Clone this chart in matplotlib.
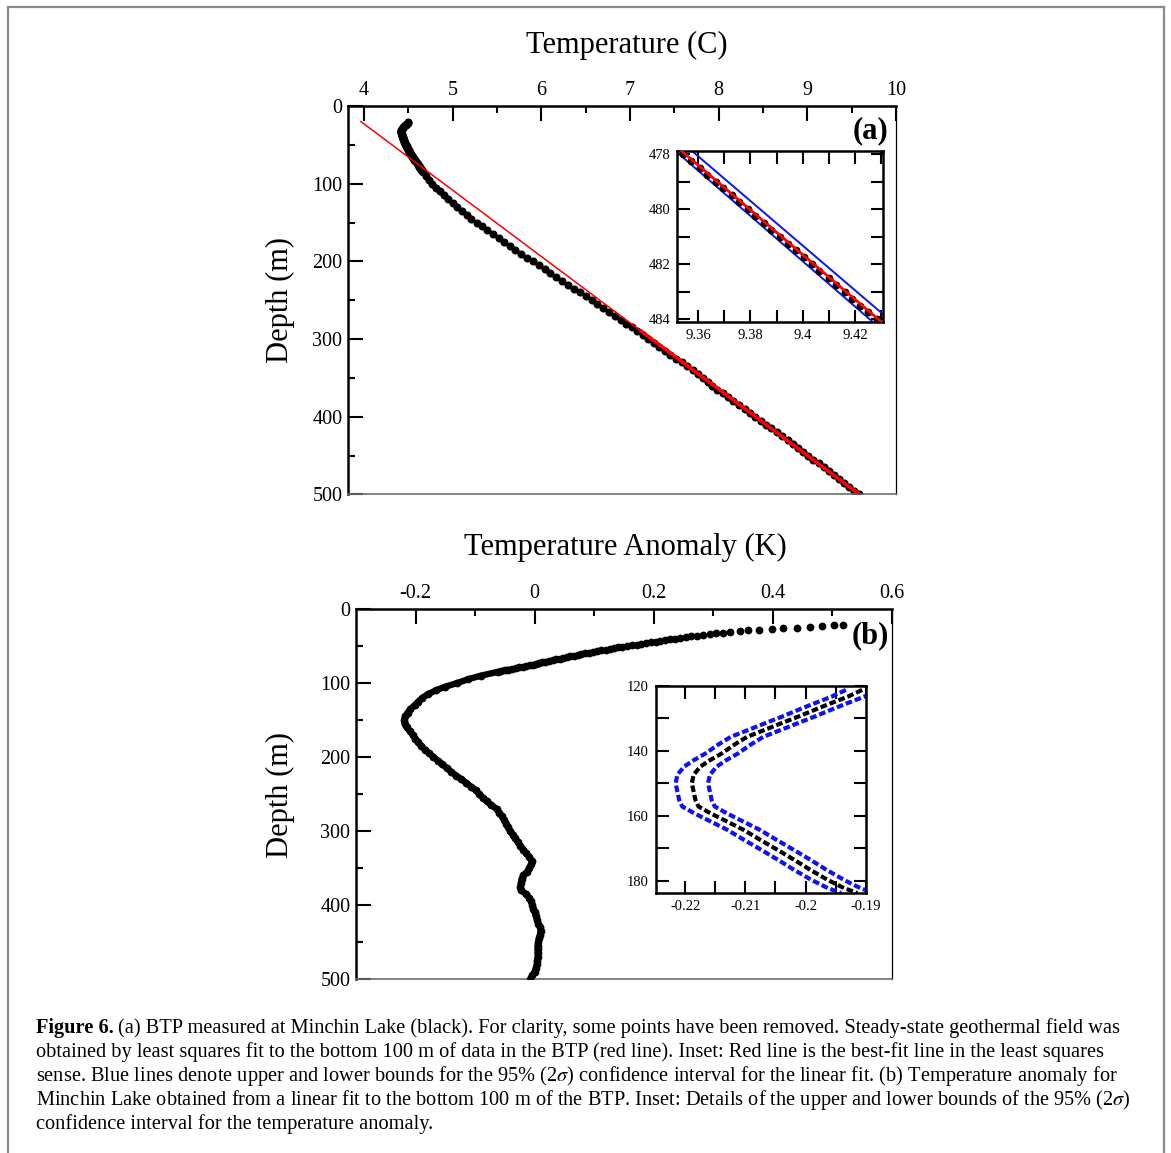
import numpy as np
import matplotlib
matplotlib.use("Agg")
import matplotlib.pyplot as plt
from matplotlib.lines import Line2D
from matplotlib.ticker import MultipleLocator, FixedLocator

plt.rcParams['font.family'] = ['Liberation Serif', 'DejaVu Serif']
plt.rcParams['mathtext.fontset'] = 'stix'

# ---------------- data ----------------
# temperature anomaly (K), panel (b): 1 m spacing near the top, 5 m below
depth_shallow = list(range(21, 86))
anom_shallow = [0.517, 0.503, 0.483, 0.462, 0.440, 0.417, 0.398, 0.377, 0.359, 0.344,
                0.328, 0.316, 0.305, 0.294, 0.282, 0.272, 0.263, 0.254, 0.244, 0.236,
                0.227, 0.219, 0.211, 0.203, 0.195, 0.187, 0.179, 0.171, 0.163, 0.155,
                0.147, 0.140, 0.133, 0.126, 0.119, 0.112, 0.105, 0.098, 0.091, 0.084,
                0.078, 0.072, 0.066, 0.060, 0.054, 0.048, 0.042, 0.036, 0.030, 0.024,
                0.018, 0.013, 0.008, 0.003, -0.002, -0.008, -0.014, -0.020, -0.026, -0.032,
                -0.038, -0.044, -0.050, -0.056, -0.062]
depth_deep = list(range(90, 501, 5))
anom_deep = [-0.090, -0.112, -0.130, -0.150, -0.166, -0.179, -0.1885, -0.1955, -0.2015, -0.2085,
             -0.2133, -0.2175, -0.2189, -0.2183, -0.2150, -0.2096, -0.2050, -0.2005, -0.1960, -0.1905,
             -0.184, -0.177, -0.170, -0.162, -0.155, -0.147, -0.140, -0.132, -0.123, -0.115,
             -0.107, -0.099, -0.093, -0.087, -0.080, -0.073, -0.064, -0.060, -0.055, -0.051,
             -0.048, -0.045, -0.041, -0.037, -0.033, -0.028, -0.024, -0.019, -0.014, -0.009,
             -0.005, -0.006, -0.009, -0.013, -0.019, -0.022, -0.023, -0.024, -0.023, -0.015,
             -0.009, -0.006, -0.004, -0.002, 0.000, 0.002, 0.004, 0.006, 0.009, 0.010,
             0.009, 0.007, 0.006, 0.005, 0.005, 0.005, 0.005, 0.004, 0.004, 0.002,
             0.000, -0.004, -0.007]

# steady-state (least squares) line, panel (a)
fit_depth = [20, 500]
fit_temp = [3.965, 9.590]

# inset (a): bottom of the BTP with fit and 95% bounds
ins_a_depth = [478.0, 478.25, 478.5, 478.75, 479.0, 479.25, 479.5, 479.75, 480.0, 480.25,
               480.5, 480.75, 481.0, 481.25, 481.5, 481.75, 482.0, 482.25, 482.5, 482.75,
               483.0, 483.25, 483.5, 483.75, 484.0]
ins_a_temp = [9.3543, 9.3572, 9.3607, 9.3634, 9.3668, 9.3695, 9.3730, 9.3757, 9.3791, 9.3818,
              9.3853, 9.3879, 9.3914, 9.3942, 9.3975, 9.4003, 9.4037, 9.4064, 9.4099, 9.4126,
              9.4160, 9.4188, 9.4221, 9.4250, 9.4284]
ins_a_line_depth = [477.8, 484.2]
ins_a_fit = [9.3525, 9.4314]
ins_a_lower = [9.3502, 9.4281]
ins_a_upper = [9.3565, 9.4355]

# inset (b): anomaly around its minimum, with 95% half-width
ins_b_depth = [121.3, 123.4, 125.4, 127.5, 129.5, 131.6, 134.1, 135.7, 138.2, 140.8,
               142.8, 144.9, 147.4, 150.0, 152.5, 155.1, 157.1, 159.2, 161.7, 164.3,
               167.4, 170.4, 173.5, 176.6, 179.6, 182.2, 183.7]
ins_b_anom = [-0.1906, -0.1930, -0.1958, -0.1986, -0.2012, -0.2041, -0.2075, -0.2097, -0.2119, -0.2139,
              -0.2158, -0.2175, -0.2186, -0.2189, -0.2186, -0.2183, -0.2178, -0.2158, -0.2131, -0.2103,
              -0.2075, -0.2047, -0.2019, -0.1992, -0.1964, -0.1936, -0.1914]
ins_b_halfwidth = 0.0027

caption_bold = "Figure 6."
caption_lines = [
    r"(a) BTP measured at Minchin Lake (black). For clarity, some points have been removed. Steady-state geothermal field was",
    r"obtained by least squares fit to the bottom 100 m of data in the BTP (red line). Inset: Red line is the best-fit line in the least squares",
    r"sense. Blue lines denote upper and lower bounds for the 95% (2$\sigma$) confidence interval for the linear fit. (b) Temperature anomaly for",
    r"Minchin Lake obtained from a linear fit to the bottom 100 m of the BTP. Inset: Details of the upper and lower bounds of the 95% (2$\sigma$)",
    r"confidence interval for the temperature anomaly.",
]

# ---------------- derived series ----------------
depth_all = np.array(depth_shallow + depth_deep, dtype=float)
anom_all = np.array(anom_shallow + anom_deep)
temp_all = np.interp(depth_all, fit_depth, fit_temp) + anom_all
deep_mask = depth_all >= 290
line_mask = depth_all >= 82

W, H = 1171, 1153
fig = plt.figure(figsize=(W / 100, H / 100), dpi=100)


def px_box(left, top, right, bottom):
    return [left / W, 1 - bottom / H, (right - left) / W, (bottom - top) / H]


def style_main(ax):
    ax.xaxis.tick_top()
    ax.tick_params(which='both', direction='in', top=True, bottom=False, left=True, right=False,
                   labeltop=True, labelbottom=False, width=1.5, labelsize=14.5, pad=4, color='black')
    ax.tick_params(which='major', length=10.5)
    ax.tick_params(which='minor', length=5.3)
    ax.spines['left'].set_linewidth(1.8)
    ax.spines['top'].set_linewidth(1.8)
    ax.spines['right'].set_linewidth(0.9)
    ax.spines['bottom'].set_linewidth(1.2)
    ax.spines['bottom'].set_color('#6e6e6e')
    ax.yaxis.set_major_locator(MultipleLocator(100))
    ax.yaxis.set_minor_locator(MultipleLocator(50))


def style_inset(ax):
    ax.tick_params(which='both', direction='in', top=True, bottom=True, left=True, right=True,
                   length=9, width=1.5, labelsize=10.5, pad=5)
    for s in ax.spines.values():
        s.set_linewidth(1.8)


# ---------------- panel (a) ----------------
ax1 = fig.add_axes(px_box(348, 106, 896, 494.5))
ax1.plot(temp_all, depth_all, 'o', color='black', ms=4.8, mec='black', zorder=2)
ax1.plot(fit_temp, fit_depth, color='red', lw=1.1, zorder=3)
ax1.plot(np.interp(depth_all[deep_mask], fit_depth, fit_temp), depth_all[deep_mask],
         color='red', lw=2.6, zorder=4)
ax1.set_xlim(3.82, 10)
ax1.set_ylim(500, 0)
ax1.xaxis.set_major_locator(MultipleLocator(1))
ax1.xaxis.set_minor_locator(MultipleLocator(0.5))
style_main(ax1)
ax1.text(0.986, 0.936, '(a)', transform=ax1.transAxes, ha='right', va='center',
         fontsize=22, fontweight='bold')

ins1 = fig.add_axes(px_box(677.3, 150.7, 882.7, 321.7))
ins1.plot(ins_a_lower, ins_a_line_depth, color='#0a14f0', lw=1.4, zorder=2)
ins1.plot(ins_a_upper, ins_a_line_depth, color='#0a14f0', lw=1.4, zorder=2)
ins1.plot(ins_a_temp, ins_a_depth, 'o', color='black', ms=4.6, zorder=3)
ins1.plot(ins_a_fit, ins_a_line_depth, color='red', lw=2.0, zorder=4)
ins1.set_xlim(9.352, 9.4306)
ins1.set_ylim(484.085, 477.88)
ins1.xaxis.set_major_locator(FixedLocator([9.36, 9.38, 9.40, 9.42]))
ins1.xaxis.set_minor_locator(FixedLocator([9.37, 9.39, 9.41, 9.43]))
ins1.yaxis.set_major_locator(FixedLocator([478, 480, 482, 484]))
ins1.yaxis.set_minor_locator(FixedLocator([479, 481, 483]))
ins1.set_xticklabels(['9.36', '9.38', '9.4', '9.42'])
style_inset(ins1)

# ---------------- panel (b) ----------------
ax2 = fig.add_axes(px_box(356, 609, 892, 979))
ax2.plot(anom_all[line_mask], depth_all[line_mask], color='black', lw=4.6,
         solid_capstyle='round', zorder=2)
ax2.plot(anom_all, depth_all, 'o', color='black', ms=4.6, zorder=3)
ax2.set_xlim(-0.3, 0.6)
ax2.set_ylim(500, 0)
ax2.xaxis.set_major_locator(FixedLocator([-0.2, 0, 0.2, 0.4, 0.6]))
ax2.xaxis.set_minor_locator(FixedLocator([-0.1, 0.1, 0.3, 0.5]))
ax2.set_xticklabels(['-0.2', '0', '0.2', '0.4', '0.6'])
style_main(ax2)
ax2.text(0.994, 0.927, '(b)', transform=ax2.transAxes, ha='right', va='center',
         fontsize=22, fontweight='bold')

ins2 = fig.add_axes(px_box(655.7, 685.7, 865.7, 893.3))
b_anom = np.array(ins_b_anom)
for xs, col in ((b_anom - ins_b_halfwidth, '#1010f5'), (b_anom + ins_b_halfwidth, '#1010f5'),
                (b_anom, 'black')):
    ins2.plot(xs, ins_b_depth, color=col, lw=3.0, ls=(0, (1.6, 0.7)))
ins2.set_xlim(-0.2249, -0.19)
ins2.set_ylim(183.8, 120)
ins2.xaxis.set_major_locator(FixedLocator([-0.22, -0.21, -0.2, -0.19]))
ins2.xaxis.set_minor_locator(FixedLocator([-0.215, -0.205, -0.195]))
ins2.set_xticklabels(['-0.22', '-0.21', '-0.2', '-0.19'])
ins2.yaxis.set_major_locator(FixedLocator([120, 140, 160, 180]))
ins2.yaxis.set_minor_locator(FixedLocator([130, 150, 170]))
style_inset(ins2)

# ---------------- titles / labels ----------------
fig.text(627 / W, 1 - 45 / H, 'Temperature (C)', ha='center', va='center', fontsize=22)
fig.text(625 / W, 1 - 547 / H, 'Temperature Anomaly (K)', ha='center', va='center', fontsize=22)
fig.text(280 / W, 1 - 300 / H, 'Depth (m)', ha='center', va='center', rotation=90, fontsize=22)
fig.text(280 / W, 1 - 795 / H, 'Depth (m)', ha='center', va='center', rotation=90, fontsize=22)

# caption: bold lead-in, then text lines sized so line 1 ends where it does in the figure
cap_fs = 13.0
bold = fig.text(36 / W, 1 - 1028 / H, caption_bold, ha='left', va='center',
                fontsize=cap_fs, fontweight='bold')
cap_texts = [fig.text(36 / W, 1 - (1028 + 24 * i) / H, line, ha='left', va='center',
                      fontsize=cap_fs) for i, line in enumerate(caption_lines)]
fig.canvas.draw()
w_total = bold.get_window_extent().width + 4 + cap_texts[0].get_window_extent().width
cap_fs = cap_fs * (1117 - 36) / w_total
bold.set_fontsize(cap_fs)
for t in cap_texts:
    t.set_fontsize(cap_fs)
fig.canvas.draw()
x_after = bold.get_window_extent().x1 + 0.3 * cap_fs
cap_texts[0].set_x(x_after / W)

# page frame (left, top, right)
for xs, ys in (([8 / W, 8 / W], [0, 1 - 7 / H]), ([8 / W, 1164 / W], [1 - 7 / H, 1 - 7 / H]),
               ([1164 / W, 1164 / W], [0, 1 - 7 / H])):
    fig.add_artist(Line2D(xs, ys, color='#8a8a8a', lw=1.6))

fig.savefig('out.png', dpi=100)
